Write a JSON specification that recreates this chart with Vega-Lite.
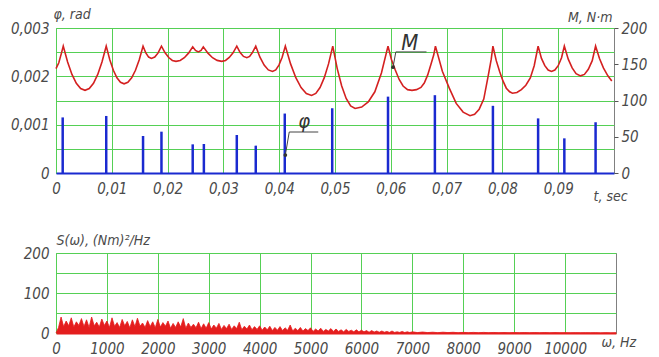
{
  "$schema": "https://vega.github.io/schema/vega-lite/v6.json",
  "background": "white",
  "padding": {"left": 9, "top": 6, "right": 5, "bottom": 5},
  "spacing": 28,
  "config": {
    "view": {"stroke": "#808080", "strokeWidth": 1},
    "axis": {
      "labelFont": "DejaVu Sans Condensed, Liberation Sans, sans-serif",
      "labelFontStyle": "italic",
      "labelFontSize": 15,
      "labelColor": "#4a4a4a",
      "titleFont": "DejaVu Sans Condensed, Liberation Sans, sans-serif",
      "titleFontStyle": "italic",
      "titleFontWeight": "normal",
      "titleFontSize": 14,
      "titleColor": "#4a4a4a",
      "gridColor": "#55d055",
      "gridOpacity": 1,
      "gridWidth": 1,
      "domain": false,
      "ticks": false,
      "labelFlush": false,
      "labelOverlap": false
    },
    "text": {"font": "DejaVu Sans Condensed, Liberation Sans, sans-serif", "fontStyle": "italic", "color": "#333"}
  },
  "vconcat": [
    {
      "width": 558,
      "height": 145,
      "resolve": {"scale": {"y": "independent"}, "axis": {"y": "independent"}},
      "layer": [
        {
          "data": {"values": [
            {"t": 0.0012, "phi": 0.00115},
            {"t": 0.009, "phi": 0.00118},
            {"t": 0.0156, "phi": 0.000766},
            {"t": 0.0189, "phi": 0.000855},
            {"t": 0.0245, "phi": 0.000593},
            {"t": 0.0265, "phi": 0.0006},
            {"t": 0.0324, "phi": 0.000786},
            {"t": 0.0358, "phi": 0.000566},
            {"t": 0.041, "phi": 0.00123},
            {"t": 0.0495, "phi": 0.00134},
            {"t": 0.0595, "phi": 0.00158},
            {"t": 0.0679, "phi": 0.00161},
            {"t": 0.0783, "phi": 0.00139},
            {"t": 0.0864, "phi": 0.00113},
            {"t": 0.0911, "phi": 0.000717},
            {"t": 0.0967, "phi": 0.00105}
          ]},
          "mark": {"type": "rule", "color": "#1a2ad0", "strokeWidth": 2.5},
          "encoding": {
            "x": {"field": "t", "type": "quantitative",
              "scale": {"domain": [0, 0.1], "nice": false},
              "axis": {
                "values": [0, 0.01, 0.02, 0.03, 0.04, 0.05, 0.06, 0.07, 0.08, 0.09],
                "labelExpr": "datum.value == 0 ? '0' : replace(format(datum.value, '.2f'), '.', ',')",
                "labelPadding": 8,
                "domain": true, "domainColor": "#1a2ad0", "domainWidth": 2,
                "title": "t, sec", "titleAngle": 0, "titleX": 537, "titleY": 27,
                "titleAlign": "left", "titleBaseline": "alphabetic"
              }
            },
            "y": {"field": "phi", "type": "quantitative",
              "scale": {"domain": [0, 0.003], "nice": false},
              "axis": {
                "orient": "left",
                "values": [0, 0.0005, 0.001, 0.0015, 0.002, 0.0025, 0.003],
                "labelExpr": "datum.value == 0 ? '0' : (round(datum.value * 10000) % 10 == 0 ? replace(format(datum.value, '.3f'), '.', ',') : '')",
                "labelPadding": 7,
                "title": "φ, rad", "titleAngle": 0, "titleX": -3, "titleY": -10,
                "titleAlign": "left", "titleBaseline": "alphabetic"
              }
            },
            "y2": {"datum": 0}
          }
        },
        {
          "data": {"values": [
            {"t": 0, "m": 144}, {"t": 0.0005, "m": 152}, {"t": 0.001, "m": 166}, {"t": 0.0013, "m": 175},
            {"t": 0.00208, "m": 153}, {"t": 0.00286, "m": 136}, {"t": 0.00364, "m": 123.8}, {"t": 0.00442, "m": 116.4}, {"t": 0.0052, "m": 114},
            {"t": 0.00596, "m": 116.4}, {"t": 0.00672, "m": 123.8}, {"t": 0.00748, "m": 136}, {"t": 0.00824, "m": 153}, {"t": 0.009, "m": 175},
            {"t": 0.00964, "m": 156.3}, {"t": 0.01028, "m": 141.7}, {"t": 0.01092, "m": 131.3}, {"t": 0.01156, "m": 125.1}, {"t": 0.0122, "m": 123},
            {"t": 0.01288, "m": 125.1}, {"t": 0.01356, "m": 131.3}, {"t": 0.01424, "m": 141.7}, {"t": 0.01492, "m": 156.3}, {"t": 0.0156, "m": 175},
            {"t": 0.0161, "m": 165.6}, {"t": 0.0166, "m": 159.9}, {"t": 0.0171, "m": 158}, {"t": 0.0177, "m": 159.9}, {"t": 0.0183, "m": 165.6}, {"t": 0.0189, "m": 175},
            {"t": 0.01955, "m": 165.8}, {"t": 0.0202, "m": 159.3}, {"t": 0.02085, "m": 155.3}, {"t": 0.0215, "m": 154}, {"t": 0.02225, "m": 155.3}, {"t": 0.023, "m": 159}, {"t": 0.02375, "m": 165.3}, {"t": 0.0245, "m": 174},
            {"t": 0.025, "m": 169}, {"t": 0.0255, "m": 167}, {"t": 0.026, "m": 169}, {"t": 0.0264, "m": 174},
            {"t": 0.02723, "m": 165.3}, {"t": 0.02805, "m": 159}, {"t": 0.02888, "m": 155.3}, {"t": 0.0297, "m": 154}, {"t": 0.03038, "m": 155.3}, {"t": 0.03105, "m": 159.3}, {"t": 0.03173, "m": 165.8}, {"t": 0.0324, "m": 175},
            {"t": 0.033, "m": 166.1}, {"t": 0.0336, "m": 160.8}, {"t": 0.0342, "m": 159}, {"t": 0.0347, "m": 160.8}, {"t": 0.0352, "m": 166.1}, {"t": 0.0358, "m": 175},
            {"t": 0.03655, "m": 159.7}, {"t": 0.0373, "m": 148.8}, {"t": 0.03805, "m": 142.2}, {"t": 0.0388, "m": 140}, {"t": 0.03938, "m": 142.2}, {"t": 0.03995, "m": 148.8}, {"t": 0.04053, "m": 159.7}, {"t": 0.0411, "m": 175},
            {"t": 0.04204, "m": 150.5}, {"t": 0.04298, "m": 131.5}, {"t": 0.04392, "m": 117.9}, {"t": 0.04486, "m": 109.7}, {"t": 0.0458, "m": 107}, {"t": 0.04656, "m": 109.7}, {"t": 0.04732, "m": 117.9}, {"t": 0.04808, "m": 131.5}, {"t": 0.04884, "m": 150.5}, {"t": 0.0496, "m": 175},
            {"t": 0.0504, "m": 144}, {"t": 0.0512, "m": 120}, {"t": 0.052, "m": 102.8}, {"t": 0.0528, "m": 92.4}, {"t": 0.0536, "m": 89}, {"t": 0.05478, "m": 91}, {"t": 0.05596, "m": 98}, {"t": 0.05714, "m": 112}, {"t": 0.05832, "m": 138}, {"t": 0.0595, "m": 175},
            {"t": 0.0601, "m": 157}, {"t": 0.0608, "m": 142}, {"t": 0.0615, "m": 129}, {"t": 0.0622, "m": 120}, {"t": 0.063, "m": 115}, {"t": 0.0638, "m": 114}, {"t": 0.0646, "m": 115}, {"t": 0.0654, "m": 118}, {"t": 0.066, "m": 124}, {"t": 0.0666, "m": 135}, {"t": 0.0672, "m": 150}, {"t": 0.0677, "m": 163}, {"t": 0.068, "m": 175},
            {"t": 0.06924, "m": 140.4}, {"t": 0.07048, "m": 117}, {"t": 0.07172, "m": 96}, {"t": 0.07296, "m": 84}, {"t": 0.0742, "m": 79}, {"t": 0.07502, "m": 81}, {"t": 0.07584, "m": 88}, {"t": 0.07666, "m": 102}, {"t": 0.07748, "m": 135}, {"t": 0.078, "m": 157}, {"t": 0.0783, "m": 175},
            {"t": 0.0789, "m": 155}, {"t": 0.0795, "m": 140}, {"t": 0.0801, "m": 127}, {"t": 0.0807, "m": 117}, {"t": 0.0813, "m": 112}, {"t": 0.0818, "m": 110}, {"t": 0.0826, "m": 111}, {"t": 0.0834, "m": 115}, {"t": 0.0842, "m": 121}, {"t": 0.085, "m": 131}, {"t": 0.0857, "m": 148}, {"t": 0.0864, "m": 175},
            {"t": 0.087, "m": 158}, {"t": 0.0876, "m": 148}, {"t": 0.0882, "m": 142}, {"t": 0.0888, "m": 140}, {"t": 0.0894, "m": 142}, {"t": 0.09, "m": 148}, {"t": 0.0906, "m": 159}, {"t": 0.0911, "m": 175},
            {"t": 0.0918, "m": 157}, {"t": 0.0925, "m": 145}, {"t": 0.0932, "m": 137}, {"t": 0.094, "m": 134}, {"t": 0.0947, "m": 136}, {"t": 0.0954, "m": 143}, {"t": 0.0961, "m": 155}, {"t": 0.0967, "m": 175},
            {"t": 0.0974, "m": 158}, {"t": 0.0981, "m": 145}, {"t": 0.0989, "m": 134}, {"t": 0.0996, "m": 127}
          ]},
          "mark": {"type": "line", "color": "#d42020", "strokeWidth": 1.6},
          "encoding": {
            "x": {"field": "t", "type": "quantitative"},
            "y": {"field": "m", "type": "quantitative",
              "scale": {"domain": [0, 200], "nice": false},
              "axis": {
                "orient": "right",
                "values": [0, 50, 100, 150, 200],
                "grid": false,
                "ticks": true, "tickSize": 4, "tickColor": "#555",
                "labelPadding": 3,
                "title": "M, N·m", "titleAngle": 0, "titleX": -2, "titleY": -7,
                "titleAlign": "right", "titleBaseline": "alphabetic"
              }
            }
          }
        },
        {
          "data": {"values": [
            {"x1": 0.0609, "y1": 167, "x2": 0.0664, "y2": 167},
            {"x1": 0.0609, "y1": 167, "x2": 0.0604, "y2": 146}
          ]},
          "mark": {"type": "rule", "color": "#444", "strokeWidth": 1},
          "encoding": {
            "x": {"field": "x1", "type": "quantitative"},
            "x2": {"field": "x2"},
            "y": {"field": "y1", "type": "quantitative", "scale": {"domain": [0, 200], "nice": false}, "axis": null},
            "y2": {"field": "y2"}
          }
        },
        {
          "data": {"values": [{"t": 0.0604, "m": 146}]},
          "mark": {"type": "point", "filled": true, "color": "#333", "size": 14, "opacity": 1},
          "encoding": {
            "x": {"field": "t", "type": "quantitative"},
            "y": {"field": "m", "type": "quantitative", "scale": {"domain": [0, 200], "nice": false}, "axis": null}
          }
        },
        {
          "data": {"values": [{"t": 0.0634, "m": 170, "label": "M"}]},
          "mark": {"type": "text", "fontSize": 22, "align": "center", "baseline": "alphabetic"},
          "encoding": {
            "x": {"field": "t", "type": "quantitative"},
            "y": {"field": "m", "type": "quantitative", "scale": {"domain": [0, 200], "nice": false}, "axis": null},
            "text": {"field": "label"}
          }
        },
        {
          "data": {"values": [
            {"x1": 0.0418, "y1": 0.000848, "x2": 0.047, "y2": 0.000848},
            {"x1": 0.0418, "y1": 0.000848, "x2": 0.0411, "y2": 0.000372}
          ]},
          "mark": {"type": "rule", "color": "#444", "strokeWidth": 1},
          "encoding": {
            "x": {"field": "x1", "type": "quantitative"},
            "x2": {"field": "x2"},
            "y": {"field": "y1", "type": "quantitative", "scale": {"domain": [0, 0.003], "nice": false}, "axis": null},
            "y2": {"field": "y2"}
          }
        },
        {
          "data": {"values": [{"t": 0.0411, "p": 0.000372}]},
          "mark": {"type": "point", "filled": true, "color": "#333", "size": 14, "opacity": 1},
          "encoding": {
            "x": {"field": "t", "type": "quantitative"},
            "y": {"field": "p", "type": "quantitative", "scale": {"domain": [0, 0.003], "nice": false}, "axis": null}
          }
        },
        {
          "data": {"values": [{"t": 0.0445, "p": 0.00093, "label": "φ"}]},
          "mark": {"type": "text", "fontSize": 20, "align": "center", "baseline": "alphabetic"},
          "encoding": {
            "x": {"field": "t", "type": "quantitative"},
            "y": {"field": "p", "type": "quantitative", "scale": {"domain": [0, 0.003], "nice": false}, "axis": null},
            "text": {"field": "label"}
          }
        }
      ]
    },
    {
      "width": 560,
      "height": 80,
      "data": {"values": [
        {"f": 0, "s": 0}, {"f": 50, "s": 14}, {"f": 100, "s": 40}, {"f": 150, "s": 16}, {"f": 200, "s": 30}, {"f": 250, "s": 18}, {"f": 300, "s": 38}, {"f": 350, "s": 15}, {"f": 400, "s": 28}, {"f": 450, "s": 19},
        {"f": 500, "s": 36}, {"f": 550, "s": 16}, {"f": 600, "s": 33}, {"f": 650, "s": 14}, {"f": 700, "s": 40}, {"f": 750, "s": 18}, {"f": 800, "s": 27}, {"f": 850, "s": 15}, {"f": 900, "s": 35}, {"f": 950, "s": 19},
        {"f": 1000, "s": 30}, {"f": 1050, "s": 14}, {"f": 1100, "s": 38}, {"f": 1150, "s": 17}, {"f": 1200, "s": 26}, {"f": 1250, "s": 14}, {"f": 1300, "s": 34}, {"f": 1350, "s": 18}, {"f": 1400, "s": 29}, {"f": 1450, "s": 13},
        {"f": 1500, "s": 33}, {"f": 1550, "s": 16}, {"f": 1600, "s": 37}, {"f": 1650, "s": 17}, {"f": 1700, "s": 25}, {"f": 1750, "s": 14}, {"f": 1800, "s": 31}, {"f": 1850, "s": 16}, {"f": 1900, "s": 28}, {"f": 1950, "s": 13},
        {"f": 2000, "s": 34}, {"f": 2050, "s": 15}, {"f": 2100, "s": 26}, {"f": 2150, "s": 17}, {"f": 2200, "s": 30}, {"f": 2250, "s": 12}, {"f": 2300, "s": 24}, {"f": 2350, "s": 14}, {"f": 2400, "s": 28}, {"f": 2450, "s": 15},
        {"f": 2500, "s": 36}, {"f": 2550, "s": 12}, {"f": 2600, "s": 25}, {"f": 2650, "s": 14}, {"f": 2700, "s": 22}, {"f": 2750, "s": 13}, {"f": 2800, "s": 27}, {"f": 2850, "s": 11}, {"f": 2900, "s": 23}, {"f": 2950, "s": 12},
        {"f": 3000, "s": 26}, {"f": 3050, "s": 10}, {"f": 3100, "s": 20}, {"f": 3150, "s": 12}, {"f": 3200, "s": 24}, {"f": 3250, "s": 9}, {"f": 3300, "s": 19}, {"f": 3350, "s": 11}, {"f": 3400, "s": 22}, {"f": 3450, "s": 9},
        {"f": 3500, "s": 18}, {"f": 3550, "s": 11}, {"f": 3600, "s": 27}, {"f": 3650, "s": 8}, {"f": 3700, "s": 17}, {"f": 3750, "s": 10}, {"f": 3800, "s": 20}, {"f": 3850, "s": 8}, {"f": 3900, "s": 16}, {"f": 3950, "s": 9},
        {"f": 4000, "s": 18}, {"f": 4050, "s": 7}, {"f": 4100, "s": 15}, {"f": 4150, "s": 8}, {"f": 4200, "s": 17}, {"f": 4250, "s": 6}, {"f": 4300, "s": 14}, {"f": 4350, "s": 7}, {"f": 4400, "s": 16}, {"f": 4450, "s": 6},
        {"f": 4500, "s": 13}, {"f": 4550, "s": 7}, {"f": 4600, "s": 20}, {"f": 4650, "s": 5}, {"f": 4700, "s": 12}, {"f": 4750, "s": 6}, {"f": 4800, "s": 14}, {"f": 4850, "s": 5}, {"f": 4900, "s": 11}, {"f": 4950, "s": 6},
        {"f": 5000, "s": 13}, {"f": 5050, "s": 4}, {"f": 5100, "s": 10}, {"f": 5150, "s": 5}, {"f": 5200, "s": 12}, {"f": 5250, "s": 4}, {"f": 5300, "s": 9}, {"f": 5350, "s": 5}, {"f": 5400, "s": 11}, {"f": 5450, "s": 4},
        {"f": 5500, "s": 10}, {"f": 5550, "s": 4}, {"f": 5600, "s": 8}, {"f": 5650, "s": 3}, {"f": 5700, "s": 9}, {"f": 5750, "s": 4}, {"f": 5800, "s": 7}, {"f": 5850, "s": 3}, {"f": 5900, "s": 8}, {"f": 5950, "s": 3},
        {"f": 6000, "s": 7}, {"f": 6050, "s": 3}, {"f": 6100, "s": 6}, {"f": 6150, "s": 2}, {"f": 6200, "s": 6}, {"f": 6250, "s": 2.5}, {"f": 6300, "s": 5}, {"f": 6350, "s": 2}, {"f": 6400, "s": 5}, {"f": 6450, "s": 2},
        {"f": 6500, "s": 4}, {"f": 6550, "s": 1.5}, {"f": 6600, "s": 5}, {"f": 6650, "s": 1.5}, {"f": 6700, "s": 3}, {"f": 6750, "s": 1.5}, {"f": 6800, "s": 4}, {"f": 6850, "s": 1.2}, {"f": 6900, "s": 3}, {"f": 6950, "s": 1.2},
        {"f": 7000, "s": 3}, {"f": 7100, "s": 1}, {"f": 7200, "s": 2.5}, {"f": 7300, "s": 1}, {"f": 7400, "s": 2}, {"f": 7500, "s": 0.8}, {"f": 7600, "s": 2}, {"f": 7700, "s": 1}, {"f": 7800, "s": 1.8}, {"f": 7900, "s": 0.7},
        {"f": 8000, "s": 1.6}, {"f": 8100, "s": 0.8}, {"f": 8200, "s": 1.5}, {"f": 8300, "s": 0.6}, {"f": 8400, "s": 1.5}, {"f": 8500, "s": 0.7}, {"f": 8600, "s": 1.3}, {"f": 8700, "s": 0.6}, {"f": 8800, "s": 1.2}, {"f": 8900, "s": 0.5},
        {"f": 9000, "s": 1.2}, {"f": 9100, "s": 0.6}, {"f": 9200, "s": 1.1}, {"f": 9300, "s": 0.5}, {"f": 9400, "s": 1}, {"f": 9500, "s": 0.5}, {"f": 9600, "s": 1}, {"f": 9700, "s": 0.4}, {"f": 9800, "s": 1}, {"f": 9900, "s": 0.5},
        {"f": 10000, "s": 0.9}, {"f": 10100, "s": 0.4}, {"f": 10200, "s": 0.9}, {"f": 10300, "s": 0.4}, {"f": 10400, "s": 0.8}, {"f": 10500, "s": 0.4}, {"f": 10600, "s": 0.8}, {"f": 10700, "s": 0.3}, {"f": 10800, "s": 0.8}, {"f": 10900, "s": 0.3},
        {"f": 11000, "s": 0.5}
      ]},
      "mark": {"type": "area", "color": "#e41e1e", "opacity": 1, "line": {"color": "#e41e1e", "strokeWidth": 0.8}},
      "encoding": {
        "x": {"field": "f", "type": "quantitative",
          "scale": {"domain": [0, 11000], "nice": false},
          "axis": {
            "values": [0, 1000, 2000, 3000, 4000, 5000, 6000, 7000, 8000, 9000, 10000],
            "format": "d",
            "labelPadding": 8,
            "domain": true, "domainColor": "#e41e1e", "domainWidth": 2,
            "title": "ω, Hz", "titleAngle": 0, "titleX": 545, "titleY": 13,
            "titleAlign": "left", "titleBaseline": "alphabetic"
          }
        },
        "y": {"field": "s", "type": "quantitative",
          "scale": {"domain": [0, 200], "nice": false},
          "axis": {
            "values": [0, 50, 100, 150, 200],
            "labelExpr": "datum.value % 100 == 0 ? datum.label : ''",
            "labelPadding": 7,
            "title": "S(ω), (Nm)²/Hz", "titleAngle": 0, "titleX": 0, "titleY": -9,
            "titleAlign": "left", "titleBaseline": "alphabetic"
          }
        }
      }
    }
  ]
}
